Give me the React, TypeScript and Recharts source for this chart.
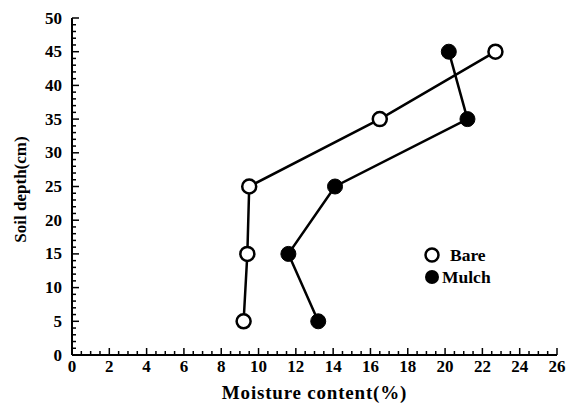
import { ScatterChart, Scatter, XAxis, YAxis, Label } from 'recharts';

// soil depth (cm) of each sample
const depth = [5, 15, 25, 35, 45];
// moisture content (%) per treatment
const bareMoisture = [9.2, 9.4, 9.5, 16.5, 22.7];
const mulchMoisture = [13.2, 11.6, 14.1, 21.2, 20.2];

const xLabels = [0, 2, 4, 6, 8, 10, 12, 14, 16, 18, 20, 22, 24, 26];
const yLabels = [0, 5, 10, 15, 20, 25, 30, 35, 40, 45, 50];

// minor ticks: every 0.5 on x, every 1 on y
const xTicks = Array.from({ length: 53 }, (_, i) => i * 0.5);
const yTicks = Array.from({ length: 51 }, (_, i) => i);

const bareData = depth.map((d, i) => ({ x: bareMoisture[i], y: d }));
const mulchData = depth.map((d, i) => ({ x: mulchMoisture[i], y: d }));

const FONT = '"Liberation Serif", "Times New Roman", serif';
const TICK_MARGIN = 10;

const YTick = (props: any) => {
  const { x, y, payload } = props;
  const axisX = x + TICK_MARGIN;
  const major = yLabels.includes(payload.value);
  return (
    <g>
      <line x1={axisX} x2={axisX + (major ? 7 : 4)} y1={y} y2={y} stroke="#000" strokeWidth={1.5} />
      {major && (
        <text x={x} y={y} dy={5.5} textAnchor="end" fontFamily={FONT} fontWeight="bold" fontSize={17} fill="#000">
          {payload.value}
        </text>
      )}
    </g>
  );
};

const XTick = (props: any) => {
  const { x, y, payload } = props;
  const axisY = y - TICK_MARGIN;
  const major = xLabels.includes(payload.value);
  return (
    <g>
      <line x1={x} x2={x} y1={axisY} y2={axisY - (major ? 7 : 4)} stroke="#000" strokeWidth={1.5} />
      {major && (
        <text x={x} y={axisY} dy={17} textAnchor="middle" fontFamily={FONT} fontWeight="bold" fontSize={17} fill="#000">
          {payload.value}
        </text>
      )}
    </g>
  );
};

const OpenDot = (props: any) => (
  <circle cx={props.cx} cy={props.cy} r={7} fill="#fff" stroke="#000" strokeWidth={2.5} />
);
const FilledDot = (props: any) => (
  <circle cx={props.cx} cy={props.cy} r={7.5} fill="#000" stroke="#000" strokeWidth={1} />
);

const LegendBox = () => (
  <svg width={90} height={44} style={{ display: 'block' }}>
    <circle cx={8} cy={9} r={6.5} fill="#fff" stroke="#000" strokeWidth={2.5} />
    <text x={26} y={14.5} fontFamily={FONT} fontWeight="bold" fontSize={17.5} fill="#000">Bare</text>
    <circle cx={8} cy={31} r={7} fill="#000" />
    <text x={18} y={36.5} fontFamily={FONT} fontWeight="bold" fontSize={17.5} fill="#000">Mulch</text>
  </svg>
);

export default function App() {
  return (
    <div style={{ position: 'absolute', left: 0, top: 0, width: 570, height: 405, background: '#fff' }}>
      <ScatterChart width={570} height={405} margin={{ top: 18, right: 13, bottom: 20, left: 32 }}>
        <XAxis
          type="number"
          dataKey="x"
          domain={[0, 26]}
          ticks={xTicks}
          interval={0}
          tickSize={0}
          tickMargin={TICK_MARGIN}
          tickLine={false}
          tick={<XTick />}
          height={30}
          axisLine={{ stroke: '#000', strokeWidth: 2 }}
        >
          <Label
            content={(p: any) => (
              <text
                x={p.viewBox.x + p.viewBox.width / 2}
                y={p.viewBox.y + 44}
                textAnchor="middle"
                fontFamily={FONT}
                fontWeight="bold"
                fontSize={19}
                letterSpacing={0.8}
                fill="#000"
              >
                Moisture content(%)
              </text>
            )}
          />
        </XAxis>
        <YAxis
          type="number"
          dataKey="y"
          domain={[0, 50]}
          ticks={yTicks}
          interval={0}
          tickSize={0}
          tickMargin={TICK_MARGIN}
          tickLine={false}
          tick={<YTick />}
          width={40}
          axisLine={{ stroke: '#000', strokeWidth: 2 }}
        >
          <Label
            content={(p: any) => {
              const cx = p.viewBox.x - 12;
              const cy = p.viewBox.y + p.viewBox.height / 2 + 3;
              return (
                <text
                  x={cx}
                  y={cy}
                  transform={`rotate(-90 ${cx} ${cy})`}
                  textAnchor="middle"
                  dominantBaseline="central"
                  fontFamily={FONT}
                  fontWeight="bold"
                  fontSize={17}
                  fill="#000"
                >
                  Soil depth(cm)
                </text>
              );
            }}
          />
        </YAxis>
        <Scatter
          name="Mulch"
          data={mulchData}
          line={{ stroke: '#000', strokeWidth: 2.5 }}
          shape={<FilledDot />}
          isAnimationActive={false}
        />
        <Scatter
          name="Bare"
          data={bareData}
          line={{ stroke: '#000', strokeWidth: 2.5 }}
          shape={<OpenDot />}
          isAnimationActive={false}
        />
      </ScatterChart>
      <div style={{ position: 'absolute', left: 424, top: 246 }}>
        <LegendBox />
      </div>
    </div>
  );
}
